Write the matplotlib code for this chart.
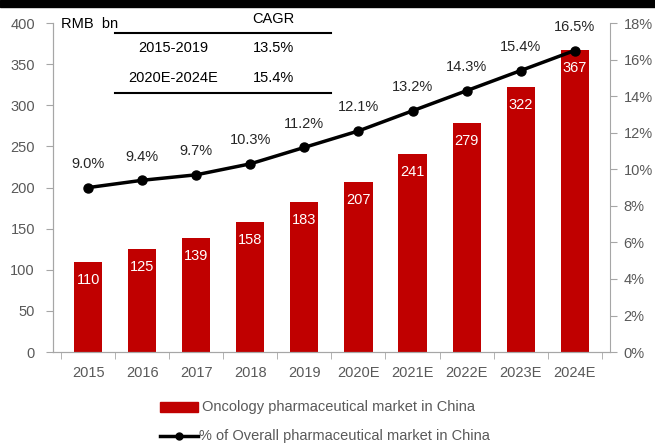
import matplotlib.pyplot as plt
import numpy as np

plt.rcParams['font.family'] = ['Liberation Sans', 'DejaVu Sans']

years = ['2015', '2016', '2017', '2018', '2019', '2020E', '2021E', '2022E', '2023E', '2024E']
market = [110, 125, 139, 158, 183, 207, 241, 279, 322, 367]
share = [9.0, 9.4, 9.7, 10.3, 11.2, 12.1, 13.2, 14.3, 15.4, 16.5]
cagr_periods = ['2015-2019', '2020E-2024E']
cagr_values = ['13.5%', '15.4%']

red = '#c00000'
grey = '#595959'
spine = '#a6a6a6'

fig = plt.figure(figsize=(6.55, 4.44), dpi=100)
ax = fig.add_axes([0.081, 0.207, 0.85, 0.741])
ax2 = ax.twinx()

x = np.arange(len(years))
ax.bar(x, market, width=0.52, color=red, zorder=2)
for xi, v in zip(x, market):
    ax.text(xi, v - 22, str(v), color='white', ha='center', va='center', fontsize=10.5)

ax.set_xlim(-0.65, len(years) - 0.35)
ax.set_ylim(0, 400)
ax.set_yticks(range(0, 401, 50))
ax.set_xticks(x)
ax.set_xticklabels(years)
ax.set_xticks(np.arange(-0.5, len(years), 1), minor=True)
ax.tick_params(axis='x', which='major', length=0, pad=10, labelsize=10.5, labelcolor=grey)
ax.tick_params(axis='x', which='minor', length=5, color=spine)
ax.tick_params(axis='y', length=5, color=spine, labelsize=10.5, labelcolor=grey, pad=8)

ax2.plot(x, share, color='black', lw=2.5, marker='o', ms=6.5, zorder=3)
for xi, v in zip(x, share):
    ax2.text(xi, v + 0.9, f'{v:.1f}%', ha='center', va='bottom', fontsize=10.5, color='#262626')
ax2.set_ylim(0, 18)
ax2.set_yticks(range(0, 19, 2))
ax2.set_yticklabels([f'{t}%' for t in range(0, 19, 2)])
ax2.tick_params(axis='y', length=5, color=spine, labelsize=10.5, labelcolor=grey, pad=5)

for a in (ax, ax2):
    a.spines['top'].set_visible(False)
    for s in ('left', 'right', 'bottom'):
        a.spines[s].set_color(spine)
ax.spines['right'].set_visible(False)

# units label and CAGR table
fig.text(0.093, 0.947, 'RMB  bn', fontsize=10.5, va='center', color='black')
fig.text(0.418, 0.958, 'CAGR', fontsize=10.5, ha='center', va='center')
fig.add_artist(plt.Line2D([0.176, 0.505], [0.925, 0.925], color='black', lw=1.5))
fig.add_artist(plt.Line2D([0.176, 0.505], [0.79, 0.79], color='black', lw=1.5))
for i, (p, c) in enumerate(zip(cagr_periods, cagr_values)):
    yy = 0.893 - i * 0.068
    fig.text(0.265, yy, p, fontsize=10.5, ha='center', va='center')
    fig.text(0.418, yy, c, fontsize=10.5, ha='center', va='center')

# black bar at top
fig.add_artist(plt.Rectangle((0, 0.985), 1, 0.015, color='black', transform=fig.transFigure))

# legend
fig.add_artist(plt.Rectangle((0.244, 0.072), 0.058, 0.022, color=red, transform=fig.transFigure))
fig.text(0.308, 0.083, 'Oncology pharmaceutical market in China', fontsize=10.5, va='center', color=grey)
fig.add_artist(plt.Line2D([0.244, 0.302], [0.018, 0.018], color='black', lw=2.5))
fig.add_artist(plt.Line2D([0.273], [0.018], color='black', marker='o', ms=5))
fig.text(0.304, 0.018, '% of Overall pharmaceutical market in China', fontsize=10.5, va='center', color=grey)

fig.savefig('out.png', dpi=100)
